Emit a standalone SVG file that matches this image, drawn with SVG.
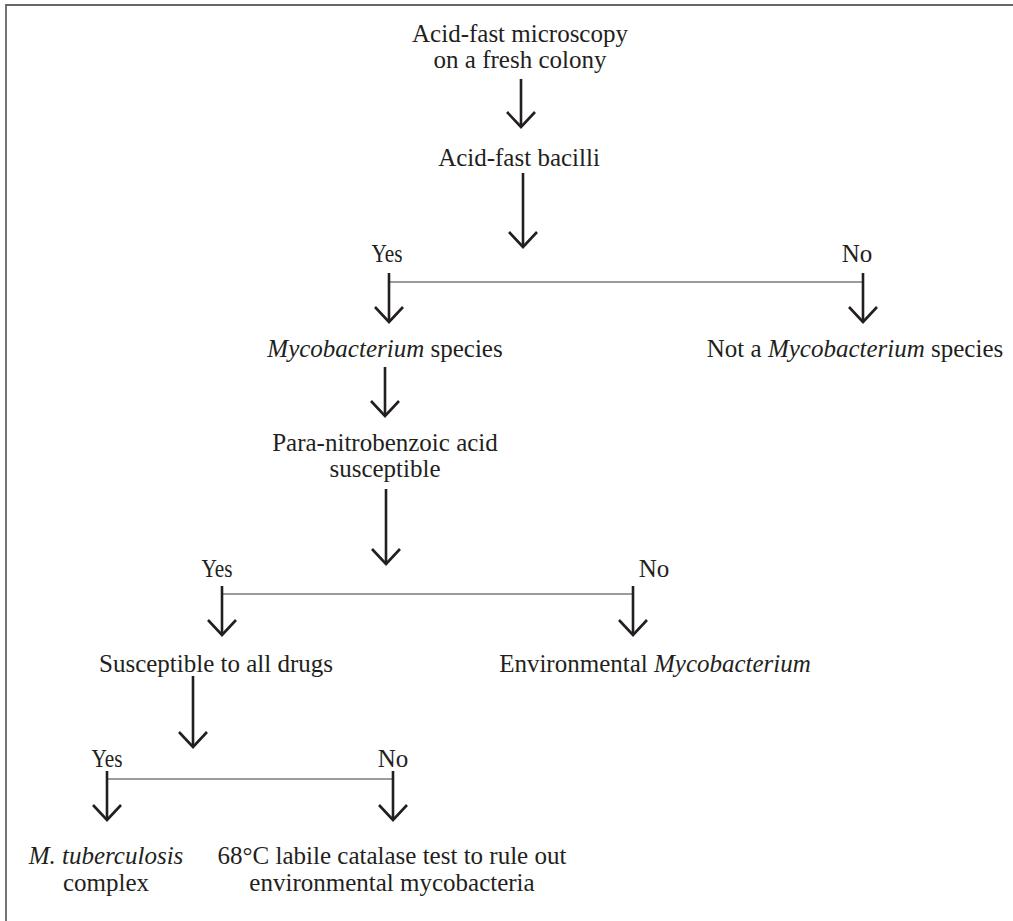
<svg xmlns="http://www.w3.org/2000/svg" width="1013" height="921" viewBox="0 0 1013 921">
  <defs>
    <marker id="vhead" markerUnits="userSpaceOnUse" markerWidth="40" markerHeight="40" viewBox="-20 -20 40 40" refX="0" refY="0" orient="auto" overflow="visible">
      <path d="M-15,-14 L0,0 L-15,14" fill="none" stroke="#231f20" stroke-width="2.6" stroke-linejoin="miter"/>
    </marker>
  </defs>
  <style>
    text { font-family: "Liberation Serif", "Times New Roman", serif; font-size: 25px; fill: #231f20; text-anchor: middle; }
    .it { font-style: italic; }
    .arrow { stroke: #231f20; stroke-width: 2.6; fill: none; marker-end: url(#vhead); }
    .bar { stroke: #7a7a7a; stroke-width: 1.6; fill: none; }
    .frame { stroke: #666666; stroke-width: 1.8; fill: none; }
  </style>
  <rect width="1013" height="921" fill="#ffffff"/>
  <path class="frame" d="M6,921 V5 H1013"/>

  <g id="connectors">
    <line class="arrow" x1="521" y1="79" x2="521" y2="127"/>
    <line class="arrow" x1="523" y1="173" x2="523" y2="247"/>
    <line class="bar" x1="389" y1="282" x2="863" y2="282"/>
    <line class="arrow" x1="389" y1="273" x2="389" y2="322"/>
    <line class="arrow" x1="863" y1="273" x2="863" y2="322"/>
    <line class="arrow" x1="385" y1="367" x2="385" y2="416"/>
    <line class="arrow" x1="386" y1="489" x2="386" y2="564"/>
    <line class="bar" x1="222" y1="594" x2="633" y2="594"/>
    <line class="arrow" x1="222" y1="586" x2="222" y2="635"/>
    <line class="arrow" x1="633" y1="586" x2="633" y2="635"/>
    <line class="arrow" x1="193" y1="676" x2="193" y2="747"/>
    <line class="bar" x1="107" y1="779" x2="393" y2="779"/>
    <line class="arrow" x1="107" y1="771" x2="107" y2="820"/>
    <line class="arrow" x1="393" y1="771" x2="393" y2="820"/>
  </g>

  <g id="node-start">
    <text x="520" y="42">Acid-fast microscopy</text>
    <text x="520" y="68">on a fresh colony</text>
  </g>
  <g id="node-afb">
    <text x="519" y="166">Acid-fast bacilli</text>
  </g>
  <g id="label-yes-1"><text x="387" y="262" textLength="31" lengthAdjust="spacingAndGlyphs">Yes</text></g>
  <g id="label-no-1"><text x="857" y="262">No</text></g>
  <g id="node-myco">
    <text x="385" y="357"><tspan class="it">Mycobacterium</tspan> species</text>
  </g>
  <g id="node-not-myco">
    <text x="855" y="357">Not a <tspan class="it">Mycobacterium</tspan> species</text>
  </g>
  <g id="node-pnb">
    <text x="385" y="451">Para-nitrobenzoic acid</text>
    <text x="385" y="477">susceptible</text>
  </g>
  <g id="label-yes-2"><text x="217" y="577" textLength="31" lengthAdjust="spacingAndGlyphs">Yes</text></g>
  <g id="label-no-2"><text x="654" y="577">No</text></g>
  <g id="node-susceptible">
    <text x="216" y="672">Susceptible to all drugs</text>
  </g>
  <g id="node-environmental">
    <text x="655" y="672">Environmental <tspan class="it">Mycobacterium</tspan></text>
  </g>
  <g id="label-yes-3"><text x="107" y="767" textLength="31" lengthAdjust="spacingAndGlyphs">Yes</text></g>
  <g id="label-no-3"><text x="393" y="767">No</text></g>
  <g id="node-mtb">
    <text x="106" y="864" class="it">M. tuberculosis</text>
    <text x="106" y="891">complex</text>
  </g>
  <g id="node-catalase">
    <text x="392" y="864">68°C labile catalase test to rule out</text>
    <text x="392" y="891">environmental mycobacteria</text>
  </g>
</svg>
